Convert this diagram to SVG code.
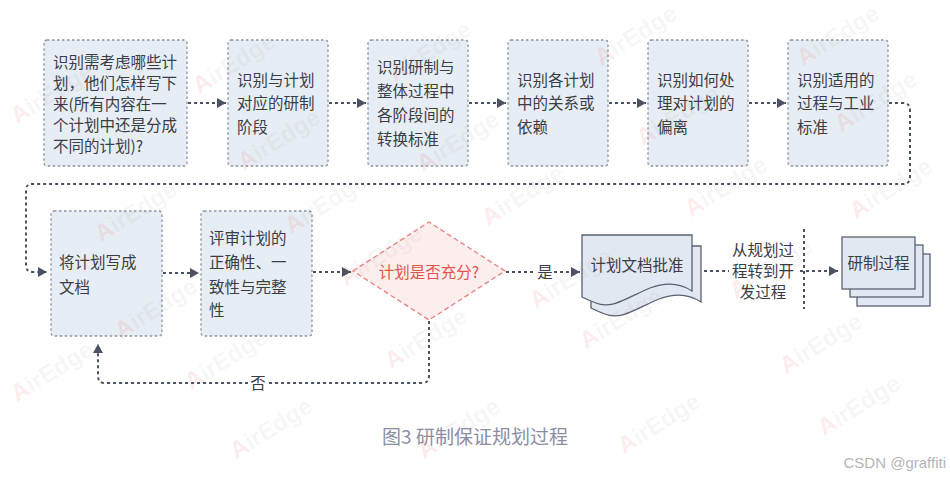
<svg xmlns="http://www.w3.org/2000/svg" width="950" height="480" viewBox="0 0 950 480">
<defs>
<style>
.box{fill:#e7edf4;stroke:#8d929c;stroke-width:1.3;stroke-dasharray:2.5,2.5}
.t{font-family:"Noto Sans CJK SC","Noto Sans",sans-serif;font-size:15.5px;fill:#3a3d45}
.c{text-anchor:middle}
.con{fill:none;stroke:#4b5263;stroke-width:2;stroke-dasharray:3,3}
.lbl{fill:#ffffff}
.sheet{fill:#e1e8f1;stroke:#5b6170;stroke-width:1.3}
.wm{font-family:"Liberation Sans",sans-serif;font-weight:bold;font-size:24px;text-anchor:middle}
.wa{fill:#e03c3c;fill-opacity:0.1}
.wr{fill:#7a7a80;fill-opacity:0.08}
</style>
<marker id="arr" markerUnits="userSpaceOnUse" markerWidth="10" markerHeight="10" refX="9" refY="5" orient="auto">
<path d="M0,0 L9,5 L0,10 Z" fill="#4b5263"/>
</marker>
<path id="doc" d="M582,235 H692 V291 C680,283 666,282 650,288 C630,296 612,310 596,303 C590,301 586,299 582,297 Z"/>
</defs>
<rect width="950" height="480" fill="#ffffff"/>

<g id="connectors">
<path class="con" d="M188,103 H226" marker-end="url(#arr)"/>
<path class="con" d="M329,103 H366" marker-end="url(#arr)"/>
<path class="con" d="M469,103 H506" marker-end="url(#arr)"/>
<path class="con" d="M609,103 H646" marker-end="url(#arr)"/>
<path class="con" d="M749,103 H786" marker-end="url(#arr)"/>
<path class="con" d="M889,103 H903 Q910,103 910,110 V177 Q910,184 903,184 H32 Q26,184 26,190 V265 Q26,272 33,272 H47" marker-end="url(#arr)"/>
<path class="con" d="M163,273 H199" marker-end="url(#arr)"/>
<path class="con" d="M313,272 H351" marker-end="url(#arr)"/>
<path class="con" d="M506,272 H580" marker-end="url(#arr)"/>
<rect class="lbl" x="536" y="262" width="18" height="20"/>
<text class="t c" x="545" y="277.5">是</text>
<path class="con" d="M429,321 V376 Q429,383 422,383 H105 Q98,383 98,376 V344" marker-end="url(#arr)"/>
<rect class="lbl" x="248" y="373" width="20" height="20"/>
<text class="t c" x="258" y="388.5">否</text>
<path class="con" d="M704,271 H838" marker-end="url(#arr)"/>
<rect class="lbl" x="729" y="238" width="70" height="64"/>
<text class="t c" x="763"><tspan x="763" y="255.5">从规划过</tspan><tspan x="763" y="276.5">程转到开</tspan><tspan x="763" y="297.5">发过程</tspan></text>
<path class="con" d="M804,229 V309"/>
</g>

<g id="n1"><rect class="box" x="44" y="40" width="143" height="126" rx="3"/>
<text class="t"><tspan x="53" y="67.5">识别需考虑哪些计</tspan><tspan x="53" y="88.5">划，他们怎样写下</tspan><tspan x="53" y="109.5">来(所有内容在一</tspan><tspan x="53" y="130.5">个计划中还是分成</tspan><tspan x="53" y="151.5">不同的计划)?</tspan></text></g>
<g id="n2"><rect class="box" x="228" y="40" width="100" height="126" rx="3"/>
<text class="t"><tspan x="237" y="85.5">识别与计划</tspan><tspan x="237" y="109">对应的研制</tspan><tspan x="237" y="132.5">阶段</tspan></text></g>
<g id="n3"><rect class="box" x="368" y="40" width="100" height="126" rx="3"/>
<text class="t"><tspan x="377" y="73">识别研制与</tspan><tspan x="377" y="97">整体过程中</tspan><tspan x="377" y="121">各阶段间的</tspan><tspan x="377" y="145">转换标准</tspan></text></g>
<g id="n4"><rect class="box" x="508" y="40" width="100" height="126" rx="3"/>
<text class="t"><tspan x="517" y="85.5">识别各计划</tspan><tspan x="517" y="109">中的关系或</tspan><tspan x="517" y="132.5">依赖</tspan></text></g>
<g id="n5"><rect class="box" x="648" y="40" width="100" height="126" rx="3"/>
<text class="t"><tspan x="657" y="85.5">识别如何处</tspan><tspan x="657" y="109">理对计划的</tspan><tspan x="657" y="132.5">偏离</tspan></text></g>
<g id="n6"><rect class="box" x="788" y="40" width="100" height="126" rx="3"/>
<text class="t"><tspan x="797" y="85.5">识别适用的</tspan><tspan x="797" y="109">过程与工业</tspan><tspan x="797" y="132.5">标准</tspan></text></g>
<g id="n7"><rect class="box" x="51" y="211" width="111" height="125" rx="3"/>
<text class="t"><tspan x="59" y="267.5">将计划写成</tspan><tspan x="59" y="292.5">文档</tspan></text></g>
<g id="n8"><rect class="box" x="201" y="211" width="111" height="125" rx="3"/>
<text class="t"><tspan x="209" y="243.5">评审计划的</tspan><tspan x="209" y="267.5">正确性、一</tspan><tspan x="209" y="292.5">致性与完整</tspan><tspan x="209" y="315.5">性</tspan></text></g>
<g id="n9"><polygon points="353,271 429,222 505,271 429,320" fill="#fdeeee" stroke="#ea7f7f" stroke-width="1.3" stroke-dasharray="5,3"/>
<text class="t c" x="429" y="277.5" style="fill:#e5534f">计划是否充分?</text></g>
<g id="n10"><use href="#doc" class="sheet" transform="translate(9,11)"/><use href="#doc" class="sheet"/>
<text class="t c" x="637" y="270.5">计划文档批准</text></g>
<g id="n11"><rect class="sheet" x="857" y="254" width="73" height="52"/><rect class="sheet" x="850" y="245" width="73" height="52"/><rect class="sheet" x="842" y="237" width="73" height="52"/>
<text class="t c" x="878.5" y="268.5">研制过程</text></g>

<text x="475" y="444" text-anchor="middle" style="font-family:'Noto Sans CJK SC','Noto Sans',sans-serif;font-size:19px;fill:#8a8ea5">图3 研制保证规划过程</text>
<text x="946" y="468" text-anchor="end" style="font-family:'Liberation Sans',sans-serif;font-size:15px;fill:#b4b4b8">CSDN @graffiti</text>

<g id="watermark">
<text class="wm" transform="translate(56,100) rotate(-32)"><tspan class="wa">A</tspan><tspan class="wr">irEdge</tspan></text>
<text class="wm" transform="translate(238,70) rotate(-32)"><tspan class="wa">A</tspan><tspan class="wr">irEdge</tspan></text>
<text class="wm" transform="translate(434,58) rotate(-32)"><tspan class="wa">A</tspan><tspan class="wr">irEdge</tspan></text>
<text class="wm" transform="translate(640,42) rotate(-32)"><tspan class="wa">A</tspan><tspan class="wr">irEdge</tspan></text>
<text class="wm" transform="translate(842,42) rotate(-32)"><tspan class="wa">A</tspan><tspan class="wr">irEdge</tspan></text>
<text class="wm" transform="translate(283,146) rotate(-32)"><tspan class="wa">A</tspan><tspan class="wr">irEdge</tspan></text>
<text class="wm" transform="translate(462,148) rotate(-32)"><tspan class="wa">A</tspan><tspan class="wr">irEdge</tspan></text>
<text class="wm" transform="translate(682,122) rotate(-32)"><tspan class="wa">A</tspan><tspan class="wr">irEdge</tspan></text>
<text class="wm" transform="translate(880,108) rotate(-32)"><tspan class="wa">A</tspan><tspan class="wr">irEdge</tspan></text>
<text class="wm" transform="translate(140,218) rotate(-32)"><tspan class="wa">A</tspan><tspan class="wr">irEdge</tspan></text>
<text class="wm" transform="translate(330,210) rotate(-32)"><tspan class="wa">A</tspan><tspan class="wr">irEdge</tspan></text>
<text class="wm" transform="translate(527,202) rotate(-32)"><tspan class="wa">A</tspan><tspan class="wr">irEdge</tspan></text>
<text class="wm" transform="translate(730,193) rotate(-32)"><tspan class="wa">A</tspan><tspan class="wr">irEdge</tspan></text>
<text class="wm" transform="translate(895,195) rotate(-32)"><tspan class="wa">A</tspan><tspan class="wr">irEdge</tspan></text>
<text class="wm" transform="translate(160,315) rotate(-32)"><tspan class="wa">A</tspan><tspan class="wr">irEdge</tspan></text>
<text class="wm" transform="translate(385,262) rotate(-32)"><tspan class="wa">A</tspan><tspan class="wr">irEdge</tspan></text>
<text class="wm" transform="translate(575,285) rotate(-32)"><tspan class="wa">A</tspan><tspan class="wr">irEdge</tspan></text>
<text class="wm" transform="translate(775,275) rotate(-32)"><tspan class="wa">A</tspan><tspan class="wr">irEdge</tspan></text>
<text class="wm" transform="translate(56,378) rotate(-32)"><tspan class="wa">A</tspan><tspan class="wr">irEdge</tspan></text>
<text class="wm" transform="translate(230,366) rotate(-32)"><tspan class="wa">A</tspan><tspan class="wr">irEdge</tspan></text>
<text class="wm" transform="translate(430,345) rotate(-32)"><tspan class="wa">A</tspan><tspan class="wr">irEdge</tspan></text>
<text class="wm" transform="translate(625,325) rotate(-32)"><tspan class="wa">A</tspan><tspan class="wr">irEdge</tspan></text>
<text class="wm" transform="translate(825,350) rotate(-32)"><tspan class="wa">A</tspan><tspan class="wr">irEdge</tspan></text>
<text class="wm" transform="translate(275,435) rotate(-32)"><tspan class="wa">A</tspan><tspan class="wr">irEdge</tspan></text>
<text class="wm" transform="translate(463,435) rotate(-32)"><tspan class="wa">A</tspan><tspan class="wr">irEdge</tspan></text>
<text class="wm" transform="translate(663,430) rotate(-32)"><tspan class="wa">A</tspan><tspan class="wr">irEdge</tspan></text>
<text class="wm" transform="translate(863,412) rotate(-32)"><tspan class="wa">A</tspan><tspan class="wr">irEdge</tspan></text>
</g>
</svg>
